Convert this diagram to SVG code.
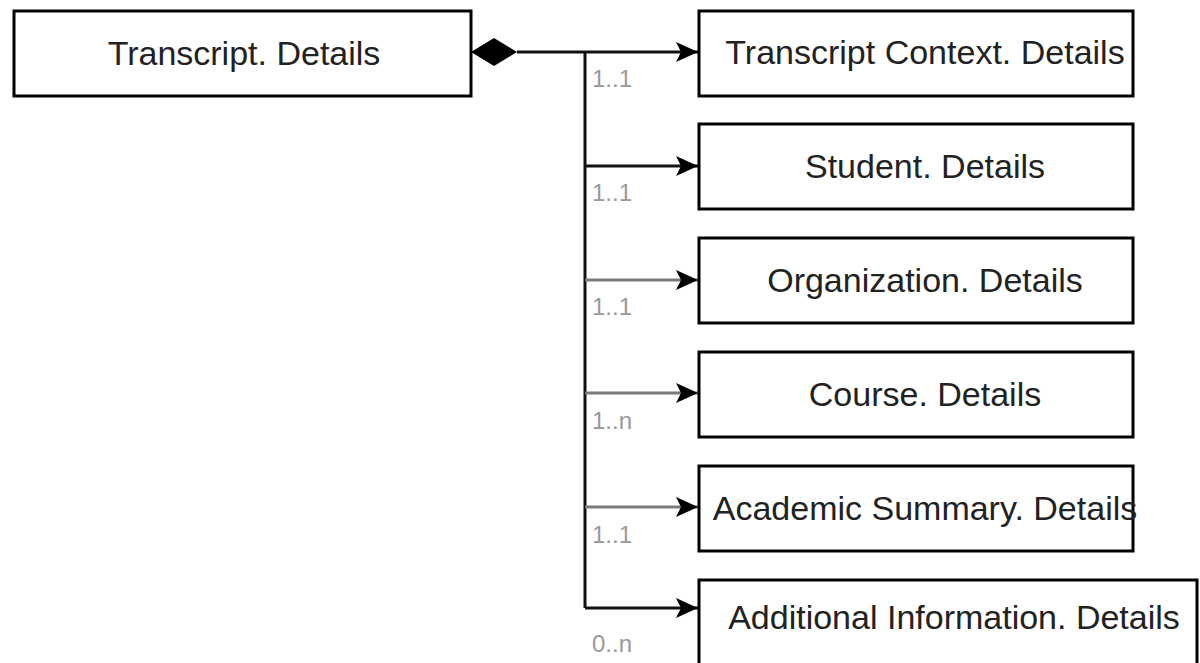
<svg xmlns="http://www.w3.org/2000/svg" width="1200" height="663" viewBox="0 0 1200 663">
<style>
.box{fill:#fff;stroke:#000;stroke-width:3}
.t{font-family:"Liberation Sans",Arial,sans-serif;font-size:34px;fill:#222;text-anchor:middle}
.m{font-family:"Liberation Sans",Arial,sans-serif;font-size:24px;fill:#999}
.ln{fill:none;stroke:#111;stroke-width:3}
.lg{fill:none;stroke:#7a7a7a;stroke-width:3}
</style>
<defs>
<marker id="arr" markerUnits="userSpaceOnUse" markerWidth="24" markerHeight="22" refX="22" refY="11" orient="auto">
<path d="M0,1 L22,11 L0,21 L5,11 Z" fill="#000"/>
</marker>
</defs>
<rect width="1200" height="663" fill="#fff"/>
<g id="connectors">
<polygon points="471,52 494,38 517,52 494,66" fill="#000"/>
<path class="ln" d="M517,52 H698" marker-end="url(#arr)"/>
<path class="ln" d="M585,52 V608"/>
<path class="ln" d="M585,166 H698" marker-end="url(#arr)"/>
<path class="lg" d="M585,280 H698" marker-end="url(#arr)"/>
<path class="lg" d="M585,393 H698" marker-end="url(#arr)"/>
<path class="lg" d="M585,507 H698" marker-end="url(#arr)"/>
<path class="ln" d="M585,608 H698" marker-end="url(#arr)"/>
<text class="m" x="592" y="87">1..1</text>
<text class="m" x="592" y="201">1..1</text>
<text class="m" x="592" y="315">1..1</text>
<text class="m" x="592" y="429">1..n</text>
<text class="m" x="592" y="543">1..1</text>
<text class="m" x="592" y="652">0..n</text>
</g>
<g id="transcript"><rect class="box" x="14" y="11" width="457" height="85"/><text class="t" x="244" y="65">Transcript. Details</text></g>
<g id="context"><rect class="box" x="699" y="11" width="434" height="85"/><text class="t" x="925" y="64">Transcript Context. Details</text></g>
<g id="student"><rect class="box" x="699" y="124" width="434" height="85"/><text class="t" x="925" y="178">Student. Details</text></g>
<g id="organization"><rect class="box" x="699" y="238" width="434" height="85"/><text class="t" x="925" y="292">Organization. Details</text></g>
<g id="course"><rect class="box" x="699" y="352" width="434" height="85"/><text class="t" x="925" y="406">Course. Details</text></g>
<g id="academic"><rect class="box" x="699" y="466" width="434" height="85"/><text class="t" x="925" y="520">Academic Summary. Details</text></g>
<g id="additional"><rect class="box" x="699" y="580" width="498" height="100"/><text class="t" x="954" y="629">Additional Information. Details</text></g>
</svg>
